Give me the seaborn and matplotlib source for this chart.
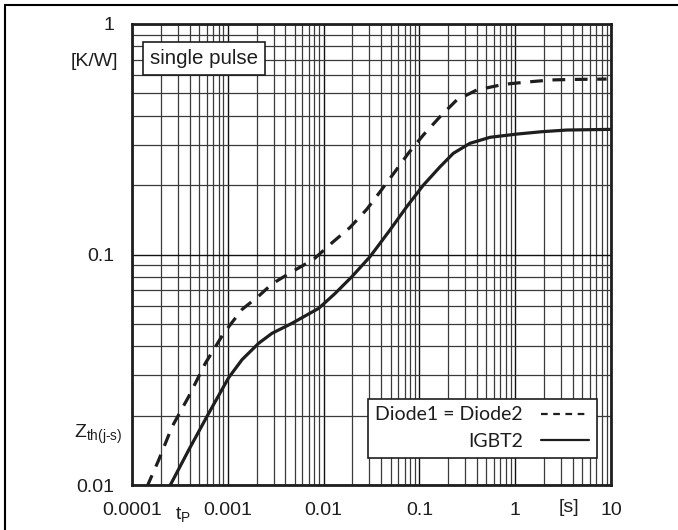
import numpy as np
import pandas as pd
import matplotlib
matplotlib.use("Agg")
import matplotlib.pyplot as plt
import seaborn as sns
from matplotlib.lines import Line2D

# Data
igbt_t = [2.45e-4, 3.91e-4, 6.32e-4, 1.02e-3, 1.41e-3, 2.10e-3, 2.89e-3, 4.68e-3, 8.89e-3,
          0.01325, 0.01977, 0.0305, 0.0493, 0.0736, 0.110, 0.164, 0.226, 0.337, 0.545,
          1.04, 1.9, 3.44, 10.0]
igbt_z = [0.0098, 0.01419, 0.02047, 0.0292, 0.0350, 0.0412, 0.0455, 0.0503, 0.0584,
          0.0679, 0.0802, 0.0978, 0.1277, 0.161, 0.200, 0.240, 0.2748, 0.3036, 0.3224,
          0.333, 0.341, 0.3467, 0.349]
diode_t = [1.43e-4, 1.90e-4, 2.62e-4, 3.91e-4, 5.82e-4, 9.05e-4, 1.41e-3, 2.10e-3, 2.89e-3,
           4.68e-3, 7.8e-3, 0.01263, 0.01887, 0.0282, 0.0388, 0.0556, 0.0766, 0.110, 0.164,
           0.245, 0.396, 0.752, 1.32, 2.40, 4.38, 9.0]
diode_z = [0.0098, 0.01283, 0.0179, 0.0242, 0.0337, 0.0455, 0.0578, 0.0660, 0.0745,
           0.0842, 0.0950, 0.1137, 0.1310, 0.157, 0.187, 0.2287, 0.2748, 0.330, 0.396,
           0.468, 0.517, 0.547, 0.560, 0.572, 0.575, 0.577]

x_ticks = [1e-4, 1e-3, 1e-2, 1e-1, 1, 10]
x_labels = ["0.0001", "0.001", "0.01", "0.1", "1", "10"]
y_ticks = [0.01, 0.1, 1]
y_labels = ["0.01", "0.1", "1"]

sns.set_theme(style="white")
plt.rcParams['font.family'] = ['Liberation Sans', 'DejaVu Sans']
plt.rcParams['mathtext.fontset'] = 'custom'
plt.rcParams['mathtext.rm'] = 'Liberation Sans'
plt.rcParams['mathtext.it'] = 'Liberation Sans'

INK = "#1e1e1e"
FS = 14

W, H = 678, 530
fig = plt.figure(figsize=(W / 100, H / 100), dpi=100)
fig.patch.set_facecolor("white")
L, R, T, B = 132, 611, 24, 485
ax = fig.add_axes([L / W, 1 - B / H, (R - L) / W, (B - T) / H])

df_i = pd.DataFrame({"t": igbt_t, "z": igbt_z})
df_d = pd.DataFrame({"t": diode_t, "z": diode_z})
sns.lineplot(data=df_d, x="t", y="z", ax=ax, color=INK, lw=2.3,
             linestyle=(0, (4.0, 3.0)), sort=False, zorder=5)
sns.lineplot(data=df_i, x="t", y="z", ax=ax, color=INK, lw=2.3,
             sort=False, zorder=5)
for ln in ax.get_lines():
    ln.set_dash_capstyle("butt")
    ln.set_solid_joinstyle("round")

ax.set_xscale("log")
ax.set_yscale("log")
ax.set_xlim(1e-4, 10)
ax.set_ylim(0.01, 1)

ax.set_xticks(x_ticks)
ax.set_xticklabels(x_labels)
ax.set_yticks(y_ticks)
ax.set_yticklabels(y_labels)
ax.tick_params(axis="both", which="both", length=0, labelsize=FS, colors=INK)
ax.tick_params(axis="x", pad=12)
ax.tick_params(axis="y", pad=13)
ax.set_xlabel("")
ax.set_ylabel("")

ax.grid(True, which="major", color="#111111", lw=1.0)
ax.grid(True, which="minor", color="#3a3a3a", lw=0.9)
ax.set_axisbelow(True)
for s in ax.spines.values():
    s.set_color(INK)
    s.set_linewidth(2.0)

# extra labels
fig.text(118 / W, 1 - 62 / H, "[K/W]", ha="right", va="center", fontsize=FS, color=INK)
fig.text(122 / W, 1 - 434 / H, r"Z$_{\mathregular{th(j\text{-}s)}}$", ha="right", va="center",
         fontsize=FS, color=INK)
fig.text(183 / W, 1 - 514 / H, r"t$_{\mathregular{P}}$", ha="center", va="center", fontsize=FS, color=INK)
fig.text(569 / W, 1 - 508 / H, "[s]", ha="center", va="center", fontsize=FS, color=INK)

ax.text(0.0376, 0.925, "single pulse", transform=ax.transAxes, ha="left", va="center",
        fontsize=14.8, color=INK,
        bbox=dict(boxstyle="square,pad=0.35", fc="white", ec=INK, lw=1.2), zorder=6)

handles = [Line2D([], [], color=INK, lw=1.6, linestyle=(0, (3, 2.5))),
           Line2D([], [], color=INK, lw=1.6)]
leg = ax.legend(handles, ["Diode1 = Diode2", "IGBT2"], loc="lower right",
                bbox_to_anchor=((597 - L) / (R - L), 1 - (458 - T) / (B - T)),
                borderaxespad=0, markerfirst=False, fancybox=False, framealpha=1,
                prop={"family": "Lato", "size": 14}, handlelength=2.5,
                labelspacing=0.5, borderpad=0.4, handletextpad=0.9)
leg.get_frame().set_edgecolor(INK)
leg.get_frame().set_linewidth(1.2)
leg.set_zorder(7)
for t in leg.get_texts():
    t.set_ha("right")
    t.set_color(INK)

# outer frame lines (top and left)
fig.add_artist(Line2D([5 / W, 1], [1 - 5 / H, 1 - 5 / H], color="black", lw=1.5, transform=fig.transFigure))
fig.add_artist(Line2D([5 / W, 5 / W], [1 - 5 / H, 0], color="black", lw=1.5, transform=fig.transFigure))

fig.savefig("out.png", dpi=100, facecolor="white")
